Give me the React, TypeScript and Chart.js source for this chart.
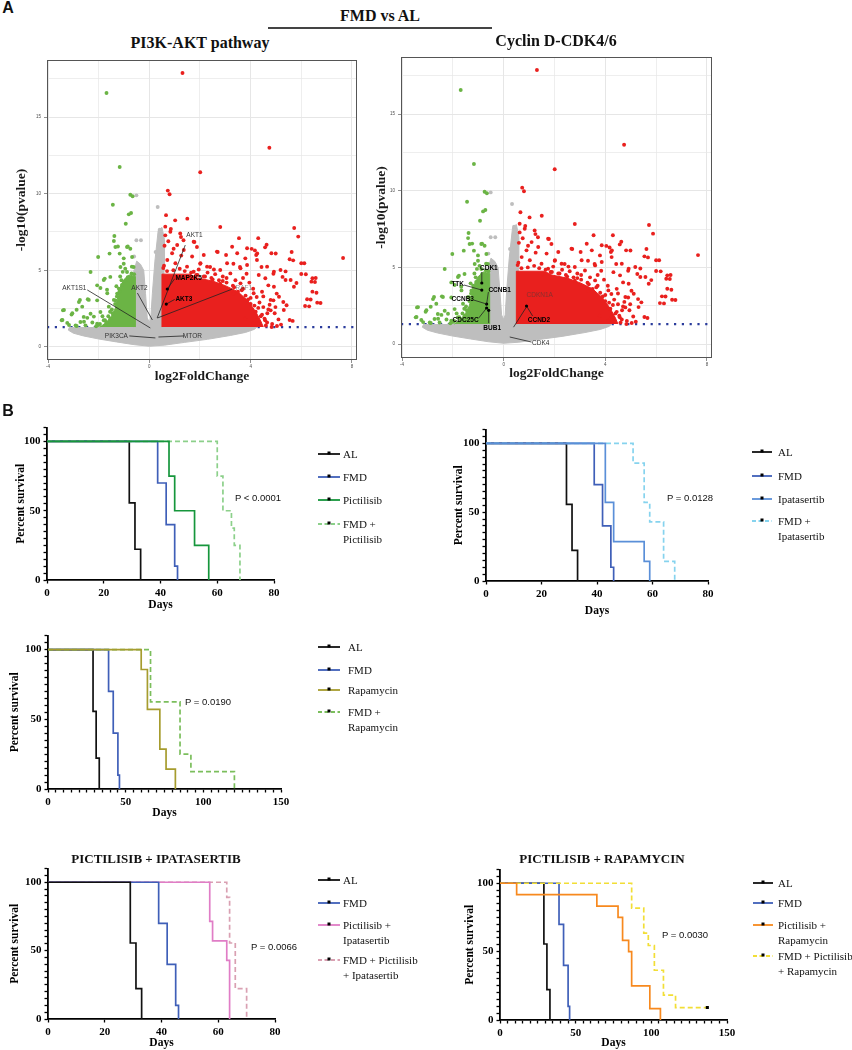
import React, { useEffect, useRef } from "react";
import { Chart, registerables } from "chart.js";
Chart.register(...registerables);

const SERIF = '"Liberation Serif", "Times New Roman", Times, serif';
const SANS = '"Liberation Sans", Arial, Helvetica, sans-serif';

// ---------------- Volcano data (log2FoldChange, -log10 p) ----------------
const upGenes: [number, number][] = [
  [1.31, 17.87], [4.74, 13.0], [2.01, 11.4], [0.73, 10.2], [0.8, 9.96], [0.66, 8.6], [1.02, 8.26], [1.5, 8.37],
  [2.8, 7.83], [5.72, 7.76], [5.88, 7.2], [3.54, 7.1], [4.3, 7.1], [4.63, 6.67], [4.57, 6.5], [7.65, 5.8],
  [5.62, 6.2], [5.68, 5.65], [4.99, 6.1], [2.7, 6.2], [3.03, 6.0], [4.04, 6.4], [4.17, 6.3], [4.26, 6.1],
  [6.12, 5.46], [6.18, 4.74], [6.57, 4.5], [6.54, 4.24], [6.6, 3.54], [6.37, 3.1], [6.76, 2.87], [6.31, 2.65],
  [5.81, 4.17], [5.38, 4.93], [5.26, 4.57], [4.9, 4.78], [5.42, 2.72], [5.66, 1.7], [4.83, 1.3], [5.2, 1.46],
  [1.25, 7.17], [1.35, 6.96], [1.78, 6.85], [1.88, 6.52], [0.85, 7.7], [0.63, 7.28], [0.96, 6.41], [1.26, 5.96],
  [2.01, 5.43], [2.4, 5.22], [3.32, 5.43], [3.58, 5.22], [3.84, 4.78], [4.43, 5.22], [4.7, 4.02], [5.03, 3.48],
  [4.79, 2.39], [4.57, 1.74], [4.11, 1.52], [3.78, 1.85], [3.32, 3.48], [2.8, 4.13], [4.9, 3.04], [5.29, 2.93],
  [4.24, 3.26], [0.63, 7.85], [0.83, 7.52], [1.22, 7.41], [1.75, 6.87], [3.86, 6.44], [4.22, 6.0], [4.82, 6.11],
  [5.54, 5.72], [6.0, 5.46], [6.0, 4.76], [6.44, 4.48], [6.4, 4.26], [6.44, 3.61], [6.23, 3.11], [6.63, 2.89],
  [6.15, 2.67], [5.54, 1.76], [5.04, 1.37], [2.67, 6.22], [3.27, 6.54], [3.47, 6.11], [3.79, 5.78], [4.25, 5.67],
  [4.65, 5.24], [4.92, 4.91], [5.18, 5.02], [5.38, 4.37], [5.58, 4.37], [5.71, 3.93], [4.92, 3.93], [5.12, 3.28],
  [4.79, 3.07], [5.31, 2.41], [4.66, 2.2], [4.26, 1.76], [4.85, 1.5], [4.12, 3.5], [3.6, 4.15], [3.2, 4.8],
  [2.8, 5.02], [2.28, 5.24], [2.02, 5.46], [1.69, 5.9], [1.36, 6.33], [1.1, 6.65], [0.9, 6.11], [0.71, 5.67],
  [1.03, 5.46], [1.49, 5.24], [1.75, 4.91], [3.86, 5.35], [4.32, 4.69], [4.58, 4.48], [3.6, 5.13], [3.07, 5.46],
  [2.2, 4.6], [2.5, 4.4], [2.9, 4.3], [3.3, 4.0], [3.5, 3.6], [3.9, 3.1], [4.0, 2.8], [4.2, 2.3], [4.4, 2.0],
  [4.5, 2.6], [4.35, 2.9], [3.7, 3.8], [3.05, 4.5], [2.6, 4.75], [1.9, 4.7], [1.55, 4.55], [4.45, 3.6],
  [4.6, 1.4], [4.3, 1.5], [3.95, 4.2], [0.6, 6.6], [0.75, 6.9], [0.58, 5.3], [1.2, 5.1], [2.15, 6.0],
  [1.65, 4.85], [1.85, 4.7], [2.15, 4.6], [2.45, 4.5], [2.75, 4.35], [3.05, 4.2], [3.35, 3.9], [3.65, 3.7],
  [3.8, 3.35], [4.0, 3.2], [4.15, 2.7], [4.3, 2.55], [4.45, 2.1], [4.55, 1.85], [4.65, 1.6], [4.7, 2.45],
  [4.1, 3.8], [3.4, 4.35], [2.9, 4.6], [2.3, 4.85], [1.95, 5.05], [1.4, 4.95], [0.95, 5.0], [0.7, 4.95],
  [0.55, 5.15], [2.55, 5.05], [3.7, 4.5], [4.5, 3.3], [4.75, 2.75], [4.95, 2.2], [5.1, 1.8], [4.98, 2.6],
];
const downGenes: [number, number][] = [
  [-1.69, 16.57], [-1.17, 11.74], [-0.75, 9.93], [-0.66, 9.83], [-1.44, 9.28], [-0.72, 8.74], [-0.81, 8.65],
  [-0.93, 8.04], [-1.38, 7.24], [-1.4, 6.91], [-1.34, 6.52], [-0.88, 6.52], [-0.75, 6.41], [-1.57, 6.09],
  [-2.02, 5.87], [-1.17, 6.09], [-0.68, 5.87], [-2.32, 4.89], [-1.76, 4.46], [-1.54, 4.57], [-2.06, 4.02],
  [-1.67, 3.74], [-2.78, 2.93], [-2.43, 3.11], [-2.06, 3.04], [-3.07, 2.11], [-3.41, 2.39], [-3.46, 1.74],
  [-3.24, 1.57], [-2.72, 1.63], [-2.32, 2.17], [-2.87, 2.43], [-2.59, 1.96], [-1.93, 2.28], [-1.8, 1.74],
  [-2.52, 1.41], [-2.91, 1.41], [-2.06, 1.52], [-1.54, 1.85], [-1.34, 3.04], [-1.27, 3.48], [-1.14, 5.22],
  [-1.01, 5.43], [-0.62, 5.22], [-0.88, 4.89], [-1.24, 6.55], [-0.85, 6.55], [-1.8, 4.37], [-1.93, 3.85],
  [-1.66, 3.5], [-2.74, 3.07], [-2.39, 3.07], [-3.37, 2.41], [-3.04, 2.2], [-2.65, 2.63], [-3.43, 1.76],
  [-3.17, 1.43], [-2.87, 1.37], [-2.58, 1.65], [-2.19, 1.98], [-2.0, 1.43], [-1.6, 2.63], [-1.4, 3.07],
  [-1.3, 3.96], [-1.01, 5.78], [-0.69, 5.24], [-1.15, 4.6], [-1.05, 4.9], [-0.95, 5.1], [-1.45, 2.2], [-1.7, 1.6],
  [-0.6, 4.75], [-0.7, 4.8], [-0.85, 4.55], [-0.95, 4.3], [-1.08, 4.05], [-1.18, 3.6], [-1.28, 3.3],
  [-1.35, 2.8], [-1.48, 2.45], [-1.62, 2.0], [-1.75, 1.75], [-1.95, 1.5], [-2.1, 1.35], [-1.1, 4.35],
  [-1.2, 3.8], [-1.55, 2.3], [-1.85, 2.0], [-2.25, 1.6], [-2.45, 1.9],
];
const nsOutliers: [number, number][] = [
  [-0.51, 9.89], [0.33, 9.13], [0.41, 7.65], [-0.51, 6.96], [-0.33, 6.96], [0.25, 6.2], [-0.6, 5.9],
];
const nsCloudOutline: [number, number][] = [
  [-3.15, 1.3], [-3.2, 1.1], [-3.0, 0.9], [-2.6, 0.72], [-2.0, 0.52], [-1.3, 0.33], [-0.6, 0.15], [0, 0.05],
  [0.6, 0.12], [1.4, 0.3], [2.3, 0.5], [3.2, 0.75], [3.8, 0.95], [4.15, 1.15], [4.25, 1.3], [0.55, 1.3],
  [0.58, 5.0], [0.6, 7.0], [0.5, 7.8], [0.35, 7.6], [0.22, 5.6], [0.12, 3.5], [0.06, 1.9], [0.0, 1.6],
  [-0.08, 1.9], [-0.15, 3.5], [-0.22, 5.0], [-0.35, 5.4], [-0.5, 5.6], [-0.6, 5.0], [-0.6, 1.3],
];
const upDenseOutline: [number, number][] = [
  [0.5, 1.3], [0.5, 4.75], [1.6, 4.75], [1.9, 4.5], [2.5, 4.3], [3.0, 4.0], [3.5, 3.6], [3.9, 3.0],
  [4.2, 2.3], [4.4, 1.7], [4.5, 1.3],
];
const downDenseOutline: [number, number][] = [
  [-0.55, 1.3], [-0.55, 4.6], [-0.8, 4.7], [-1.0, 4.4], [-1.15, 3.9], [-1.25, 3.2], [-1.35, 2.5],
  [-1.5, 2.0], [-1.7, 1.6], [-1.95, 1.3],
];
const pThreshold = 1.3;
const volcanoXTicks = [-4, 0, 4, 8];
const volcanoYTicks = [0, 5, 10, 15];

type GeneLabel = {
  gene: string; tx: number; ty: number; align: CanvasTextAlign;
  from: [number, number]; to: [number, number]; bold?: boolean; dot?: boolean; faint?: boolean;
};
const pi3kLabels: GeneLabel[] = [
  { gene: "AKT1", tx: 1.46, ty: 7.3, align: "left", from: [1.42, 6.65], to: [0.31, 1.89] },
  { gene: "MAP2K5", tx: 1.03, ty: 4.5, align: "left", from: [1.0, 4.45], to: [0.71, 3.78], bold: true, dot: true },
  { gene: "AKT3", tx: 1.03, ty: 3.13, align: "left", from: [1.0, 3.1], to: [0.67, 2.8], bold: true, dot: true },
  { gene: "RAF1", tx: 3.4, ty: 3.85, align: "left", from: [3.28, 3.78], to: [0.32, 1.89], faint: true },
  { gene: "AKT2", tx: -0.39, ty: 3.85, align: "center", from: [-0.47, 3.52], to: [0.12, 1.76] },
  { gene: "AKT1S1", tx: -2.96, ty: 3.85, align: "center", from: [-2.45, 3.72], to: [0.04, 1.24] },
  { gene: "PIK3CA", tx: -1.3, ty: 0.72, align: "center", from: [-0.79, 0.72], to: [0.24, 0.59] },
  { gene: "MTOR", tx: 1.7, ty: 0.72, align: "center", from: [1.38, 0.72], to: [0.36, 0.65] },
];
const cyclinLabels: GeneLabel[] = [
  { gene: "CDK1", tx: -0.93, ty: 4.94, align: "left", from: [-0.86, 4.7], to: [-0.86, 3.98], bold: true, dot: true },
  { gene: "TTK", tx: -1.56, ty: 3.91, align: "right", from: [-1.56, 3.85], to: [-0.86, 3.52], bold: true, dot: true },
  { gene: "CCNB1", tx: -0.6, ty: 3.52, align: "left", from: [-0.6, 3.39], to: [-0.67, 2.61], bold: true, dot: true },
  { gene: "CCNB3", tx: -2.05, ty: 2.94, align: "left", from: [-1.18, 2.87], to: [-0.67, 2.61], bold: true },
  { gene: "CDC25C", tx: -2.01, ty: 1.57, align: "left", from: [-0.98, 1.7], to: [-0.67, 2.35], bold: true, dot: true },
  { gene: "BUB1", tx: -0.8, ty: 1.02, align: "left", from: [-0.59, 1.37], to: [-0.59, 2.2], bold: true, dot: true },
  { gene: "CDKN1A", tx: 0.9, ty: 3.2, align: "left", from: [0.93, 2.5], to: [0.39, 1.1], faint: true },
  { gene: "CCND2", tx: 0.95, ty: 1.57, align: "left", from: [1.14, 1.83], to: [0.9, 2.48], bold: true, dot: true },
  { gene: "CDK4", tx: 1.12, ty: 0.08, align: "left", from: [1.1, 0.13], to: [0.24, 0.46] },
];

// ---------------- Survival data (days, percent survival) ----------------
const alDays = [0, 29, 31, 33];
const alSurv = [100, 55.6, 22.2, 0];
const fmdDays = [0, 39, 42, 45, 46];
const fmdSurv = [100, 70, 40, 10, 0];
const pictDays = [0, 43, 45, 52, 57];
const pictSurv = [100, 75, 50, 25, 0];
const fmdPictDays = [0, 60, 62, 65, 66, 68];
const fmdPictSurv = [100, 75, 50, 37.5, 25, 0];
const ipatDays = [0, 43, 46, 57, 59];
const ipatSurv = [100, 57.1, 28.6, 14.3, 0];
const fmdIpatDays = [0, 53, 57, 59, 64, 68];
const fmdIpatSurv = [100, 85.7, 57.1, 42.9, 14.3, 0];
const rapaDays = [0, 60, 64, 72, 76, 82];
const rapaSurv = [100, 85.7, 57.1, 28.6, 14.3, 0];
const fmdRapaDays = [0, 66, 85, 92, 120];
const fmdRapaSurv = [100, 62.5, 25, 12.5, 0];
const pictIpatDays = [0, 57, 58, 63, 64];
const pictIpatSurv = [100, 71.4, 57.1, 42.9, 0];
const fmdPictIpatDays = [0, 63, 64, 66, 70];
const fmdPictIpatSurv = [100, 88.9, 55.6, 22.2, 0];
const pictRapaDays = [0, 11, 64, 78, 81, 85, 87, 99, 106];
const pictRapaSurv = [100, 91.7, 83.3, 75, 58.3, 50, 25, 8.3, 0];
const fmdPictRapaDays = [0, 87, 95, 98, 102, 108, 116, 137];
const fmdPictRapaSurv = [100, 81.8, 63.6, 54.5, 36.4, 18.2, 9.1, 9.1];
const fmdPictRapaCensor: [number, number][] = [[137, 9.1]];

const C = {
  al: "#111111", fmd: "#3F5FB8", pict: "#16963C", fmdPict: "#8CD08A", ipat: "#5A8FD8", fmdIpat: "#86D3EE",
  rapa: "#A69C2E", fmdRapa: "#7BBE5C", pictIpat: "#E07DC6", fmdPictIpat: "#D9A0B2", pictRapa: "#F7891E",
  fmdPictRapa: "#F2DE36",
};
const GRAY = "#BEBEBE";
const RED = "#E9201E";
const GREEN = "#6BB445";

type Series = { name: string[]; t: number[]; s: number[]; color: string; dashed?: boolean; z: number };

const panelB1: Series[] = [
  { name: ["AL"], t: alDays, s: alSurv, color: C.al, z: 1 },
  { name: ["FMD"], t: fmdDays, s: fmdSurv, color: C.fmd, z: 2 },
  { name: ["Pictilisib"], t: pictDays, s: pictSurv, color: C.pict, z: 4 },
  { name: ["FMD +", "Pictilisib"], t: fmdPictDays, s: fmdPictSurv, color: C.fmdPict, dashed: true, z: 3 },
];
const panelB2: Series[] = [
  { name: ["AL"], t: alDays, s: alSurv, color: C.al, z: 1 },
  { name: ["FMD"], t: fmdDays, s: fmdSurv, color: C.fmd, z: 2 },
  { name: ["Ipatasertib"], t: ipatDays, s: ipatSurv, color: C.ipat, z: 4 },
  { name: ["FMD +", "Ipatasertib"], t: fmdIpatDays, s: fmdIpatSurv, color: C.fmdIpat, dashed: true, z: 3 },
];
const panelB3: Series[] = [
  { name: ["AL"], t: alDays, s: alSurv, color: C.al, z: 1 },
  { name: ["FMD"], t: fmdDays, s: fmdSurv, color: C.fmd, z: 2 },
  { name: ["Rapamycin"], t: rapaDays, s: rapaSurv, color: C.rapa, z: 4 },
  { name: ["FMD +", "Rapamycin"], t: fmdRapaDays, s: fmdRapaSurv, color: C.fmdRapa, dashed: true, z: 3 },
];
const panelB4: Series[] = [
  { name: ["AL"], t: alDays, s: alSurv, color: C.al, z: 4 },
  { name: ["FMD"], t: fmdDays, s: fmdSurv, color: C.fmd, z: 3 },
  { name: ["Pictilisib +", "Ipatasertib"], t: pictIpatDays, s: pictIpatSurv, color: C.pictIpat, z: 2 },
  { name: ["FMD + Pictilisib", "+ Ipatasertib"], t: fmdPictIpatDays, s: fmdPictIpatSurv, color: C.fmdPictIpat, dashed: true, z: 1 },
];
const panelB5: Series[] = [
  { name: ["AL"], t: alDays, s: alSurv, color: C.al, z: 1 },
  { name: ["FMD"], t: fmdDays, s: fmdSurv, color: C.fmd, z: 2 },
  { name: ["Pictilisib +", "Rapamycin"], t: pictRapaDays, s: pictRapaSurv, color: C.pictRapa, z: 4 },
  { name: ["FMD + Pictilisib", "+ Rapamycin"], t: fmdPictRapaDays, s: fmdPictRapaSurv, color: C.fmdPictRapa, dashed: true, z: 3 },
];

// ---------------- layout helpers ----------------
type Area = { left: number; top: number; right: number; bottom: number };
type Geo = { x: number; y: number; w: number; h: number; yW: number; xH: number; padTop: number; padRight: number };

function geometry(area: Area, yTitleCX: number, xTitleCY: number, lh: number, padTop: number, padRight: number): Geo {
  const x = Math.round(yTitleCX - lh / 2);
  const y = Math.round(area.top - padTop);
  const right = Math.round(area.right + padRight);
  const bottom = Math.round(xTitleCY + lh / 2);
  return { x, y, w: right - x, h: bottom - y, yW: area.left - x, xH: bottom - area.bottom, padTop: area.top - y, padRight: right - area.right };
}

const VT_LH = 13.5 * 1.2;
const ST_LH = 11.5 * 1.2;
const geoV1 = geometry({ left: 47, top: 60, right: 357, bottom: 360 }, 21, 377, VT_LH, 8, 6);
const geoV2 = geometry({ left: 401, top: 57, right: 712, bottom: 358 }, 381, 374, VT_LH, 8, 6);
const geoB1 = geometry({ left: 47, top: 426, right: 274, bottom: 580 }, 21, 605, ST_LH, 8, 14);
const geoB2 = geometry({ left: 486, top: 428, right: 708, bottom: 581 }, 459, 611, ST_LH, 8, 14);
const geoB3 = geometry({ left: 48, top: 634, right: 281, bottom: 789 }, 15, 813, ST_LH, 8, 14);
const geoB4 = geometry({ left: 48, top: 867, right: 275, bottom: 1019 }, 15, 1043, ST_LH, 8, 14);
const geoB5 = geometry({ left: 500, top: 868, right: 727, bottom: 1020 }, 470, 1043, ST_LH, 8, 14);

const framePlugin = (color: string) => ({
  id: "frame",
  afterDraw(chart: any) {
    const { ctx, chartArea: a } = chart;
    ctx.save();
    ctx.strokeStyle = color;
    ctx.lineWidth = 1;
    ctx.strokeRect(a.left + 0.5, a.top + 0.5, a.right - a.left - 1, a.bottom - a.top - 1);
    ctx.restore();
  },
});

const geneLabelPlugin = (items: GeneLabel[]) => ({
  id: "geneLabels",
  afterDatasetsDraw(chart: any) {
    const { ctx, scales } = chart;
    const X = (v: number) => scales.x.getPixelForValue(v);
    const Y = (v: number) => scales.y.getPixelForValue(v);
    ctx.save();
    for (const it of items) {
      ctx.strokeStyle = "#222";
      ctx.lineWidth = 0.8;
      ctx.beginPath();
      ctx.moveTo(X(it.from[0]), Y(it.from[1]));
      ctx.lineTo(X(it.to[0]), Y(it.to[1]));
      ctx.stroke();
      if (it.dot) {
        ctx.fillStyle = "#000";
        ctx.beginPath();
        ctx.arc(X(it.to[0]), Y(it.to[1]), 1.6, 0, Math.PI * 2);
        ctx.fill();
      }
      ctx.font = `${it.bold ? "bold " : ""}6.5px ${SANS}`;
      ctx.fillStyle = it.faint ? "rgba(60,60,60,0.55)" : it.bold ? "#000" : "#333";
      ctx.textAlign = it.align;
      ctx.textBaseline = "middle";
      ctx.fillText(it.gene, X(it.tx), Y(it.ty));
    }
    ctx.restore();
  },
});

const pts = (arr: [number, number][]) => arr.map(([x, y]) => ({ x, y }));

function volcanoConfig(g: Geo, yMin: number, labels: GeneLabel[]): any {
  const xMin = -4.04, xMax = 8.2, yMax = 18.72;
  const poly = (arr: [number, number][], color: string, order: number) => ({
    type: "line", data: pts(arr), borderColor: color, borderWidth: 1, backgroundColor: color,
    fill: "shape", pointRadius: 0, tension: 0, order,
  });
  const dots = (arr: [number, number][], color: string, order: number) => ({
    type: "scatter", data: pts(arr), backgroundColor: color, borderWidth: 0, pointRadius: 1.95, order,
  });
  return {
    type: "scatter",
    data: {
      datasets: [
        { type: "line", data: [{ x: xMin, y: pThreshold }, { x: xMax, y: pThreshold }], borderColor: "#2B3C9C",
          borderWidth: 2.2, borderDash: [2.2, 5.6], pointRadius: 0, fill: false, order: 20 },
        poly(nsCloudOutline, GRAY, 19),
        dots(nsOutliers, GRAY, 18),
        poly(downDenseOutline, GREEN, 17),
        poly(upDenseOutline, RED, 16),
        dots(downGenes, GREEN, 15),
        dots(upGenes, RED, 14),
      ],
    },
    plugins: [geneLabelPlugin(labels), framePlugin("#555")],
    options: {
      responsive: false, maintainAspectRatio: false, animation: false, devicePixelRatio: 1, events: [],
      layout: { padding: { top: g.padTop, right: g.padRight, left: 0, bottom: 0 } },
      plugins: { legend: { display: false }, tooltip: { enabled: false } },
      scales: {
        x: {
          type: "linear", min: xMin, max: xMax,
          afterFit: (s: any) => { s.height = g.xH; },
          ticks: { stepSize: 2, includeBounds: false, autoSkip: false, maxRotation: 0, padding: 1,
            font: { family: SANS, size: 4.5 }, color: "#4D4D4D",
            callback: (v: any) => (volcanoXTicks.includes(Number(v)) ? String(v) : "") },
          grid: { color: "#E6E6E6", lineWidth: (c: any) => (c.tick && volcanoXTicks.includes(c.tick.value) ? 1 : 0.7),
            drawTicks: true, tickLength: 3, tickWidth: 0.6,
            tickColor: (c: any) => (c.tick && volcanoXTicks.includes(c.tick.value) ? "#444" : "rgba(0,0,0,0)") },
          border: { display: false },
          title: { display: true, text: "log2FoldChange", color: "#1a1a1a", padding: 0,
            font: { family: SERIF, size: 13.5, weight: "bold", lineHeight: 1.2 } },
        },
        y: {
          type: "linear", min: yMin, max: yMax,
          afterFit: (s: any) => { s.width = g.yW; },
          ticks: { stepSize: 2.5, includeBounds: false, autoSkip: false, padding: 3,
            font: { family: SANS, size: 4.5 }, color: "#4D4D4D",
            callback: (v: any) => (volcanoYTicks.includes(Number(v)) ? String(v) : "") },
          grid: { color: "#E6E6E6", lineWidth: (c: any) => (c.tick && volcanoYTicks.includes(c.tick.value) ? 1 : 0.7),
            drawTicks: true, tickLength: 3, tickWidth: 0.6,
            tickColor: (c: any) => (c.tick && volcanoYTicks.includes(c.tick.value) ? "#444" : "rgba(0,0,0,0)") },
          border: { display: false },
          title: { display: true, text: "-log10(pvalue)", color: "#1a1a1a", padding: 0,
            font: { family: SERIF, size: 13.5, weight: "bold", lineHeight: 1.2 } },
        },
      },
    },
  };
}

function survivalConfig(g: Geo, series: Series[], xMax: number, xMajor: number, xMinor: number, censor: [number, number][] = []): any {
  const datasets: any[] = series.map((s) => ({
    type: "line",
    data: s.t.map((t, k) => ({ x: t, y: s.s[k] })),
    borderColor: s.color, borderWidth: 1.7, borderDash: s.dashed ? [5, 3] : [],
    stepped: "before", pointRadius: 0, fill: false, tension: 0, order: 10 - s.z,
  }));
  if (censor.length) {
    datasets.push({ type: "scatter", data: pts(censor), pointStyle: "rect", pointRadius: 2.2,
      backgroundColor: "#000", borderWidth: 0, order: 0 });
  }
  const tickFont = { family: SERIF, size: 11, weight: "bold" };
  const titleFont = { family: SERIF, size: 11.5, weight: "bold", lineHeight: 1.2 };
  return {
    type: "line",
    data: { datasets },
    options: {
      responsive: false, maintainAspectRatio: false, animation: false, devicePixelRatio: 1, events: [],
      layout: { padding: { top: g.padTop, right: g.padRight, left: 0, bottom: 0 } },
      plugins: { legend: { display: false }, tooltip: { enabled: false } },
      scales: {
        x: {
          type: "linear", min: 0, max: xMax,
          afterFit: (s: any) => { s.height = g.xH; },
          ticks: { stepSize: xMinor, autoSkip: false, maxRotation: 0, padding: 3, font: tickFont, color: "#000",
            callback: (v: any) => (Number(v) % xMajor === 0 ? String(v) : "") },
          grid: { drawOnChartArea: false, drawTicks: true, tickLength: 3.5, tickColor: "#000", tickWidth: 1.3 },
          border: { color: "#000", width: 1.8 },
          title: { display: true, text: "Days", color: "#000", padding: 0, font: titleFont },
        },
        y: {
          type: "linear", min: 0, max: 110,
          afterFit: (s: any) => { s.width = g.yW; },
          ticks: { stepSize: 5, autoSkip: false, padding: 3, font: tickFont, color: "#000",
            callback: (v: any) => (Number(v) % 50 === 0 ? String(v) : "") },
          grid: { drawOnChartArea: false, drawTicks: true, tickLength: 3.5, tickColor: "#000", tickWidth: 1.3 },
          border: { color: "#000", width: 1.8 },
          title: { display: true, text: "Percent survival", color: "#000", padding: 0, font: titleFont },
        },
      },
    },
  };
}

function ChartBox({ g, make }: { g: Geo; make: () => any }) {
  const ref = useRef<HTMLCanvasElement>(null);
  useEffect(() => {
    const chart = new Chart(ref.current as HTMLCanvasElement, make());
    return () => chart.destroy();
  }, []);
  return (
    <canvas ref={ref} width={g.w} height={g.h}
      style={{ position: "absolute", left: g.x, top: g.y, width: g.w, height: g.h }} />
  );
}

function Txt({ x, y, children, style, left }: { x: number; y: number; children: any; style?: any; left?: boolean }) {
  return (
    <div style={{ position: "absolute", left: x, top: y, transform: left ? "translate(0,-50%)" : "translate(-50%,-50%)",
      whiteSpace: "nowrap", lineHeight: 1, ...style }}>{children}</div>
  );
}

type LegendSpec = { x1: number; x2: number; tx: number; rows: number[]; series: Series[] };
const legends: LegendSpec[] = [
  { x1: 318, x2: 340, tx: 343, rows: [454, 477, 500, 524], series: panelB1 },
  { x1: 752, x2: 772, tx: 778, rows: [452, 476, 499, 521], series: panelB2 },
  { x1: 318, x2: 340, tx: 348, rows: [647, 670, 690, 712], series: panelB3 },
  { x1: 318, x2: 340, tx: 343, rows: [880, 903, 925, 960], series: panelB4 },
  { x1: 753, x2: 773, tx: 778, rows: [883, 903, 925, 956], series: panelB5 },
];

const pValues = [
  { text: "P < 0.0001", x: 235, y: 498 },
  { text: "P = 0.0128", x: 667, y: 498 },
  { text: "P = 0.0190", x: 185, y: 702 },
  { text: "P = 0.0066", x: 251, y: 947 },
  { text: "P = 0.0030", x: 662, y: 935 },
];

export default function App() {
  const legendText: any[] = [];
  const legendMarks: any[] = [];
  legends.forEach((L, li) => {
    L.series.forEach((s, i) => {
      const y = L.rows[i];
      legendMarks.push(
        <g key={`m${li}-${i}`}>
          <line x1={L.x1} x2={L.x2} y1={y} y2={y} stroke={s.color} strokeWidth={1.8}
            strokeDasharray={s.dashed ? "4 2.5" : undefined} />
          <rect x={(L.x1 + L.x2) / 2 - 1.5} y={y - 2.5} width={3} height={3} fill="#000" />
        </g>
      );
      s.name.forEach((line, k) => {
        legendText.push(
          <Txt key={`t${li}-${i}-${k}`} x={L.tx} y={y + k * 15} left
            style={{ fontFamily: SERIF, fontSize: 11, color: "#111" }}>{line}</Txt>
        );
      });
    });
  });

  const titleStyle = { fontFamily: SERIF, fontWeight: "bold", color: "#111" };
  return (
    <div style={{ position: "absolute", left: 0, top: 0, width: 852, height: 1050, background: "#fff", overflow: "hidden" }}>
      <ChartBox g={geoV1} make={() => volcanoConfig(geoV1, -0.85, pi3kLabels)} />
      <ChartBox g={geoV2} make={() => volcanoConfig(geoV2, -0.91, cyclinLabels)} />
      <ChartBox g={geoB1} make={() => survivalConfig(geoB1, panelB1, 80, 20, 20)} />
      <ChartBox g={geoB2} make={() => survivalConfig(geoB2, panelB2, 80, 20, 20)} />
      <ChartBox g={geoB3} make={() => survivalConfig(geoB3, panelB3, 150, 50, 5)} />
      <ChartBox g={geoB4} make={() => survivalConfig(geoB4, panelB4, 80, 20, 20)} />
      <ChartBox g={geoB5} make={() => survivalConfig(geoB5, panelB5, 150, 50, 5, fmdPictRapaCensor)} />

      <Txt x={8} y={8} style={{ fontFamily: SANS, fontWeight: "bold", fontSize: 16, color: "#111" }}>A</Txt>
      <Txt x={8} y={411} style={{ fontFamily: SANS, fontWeight: "bold", fontSize: 16, color: "#111" }}>B</Txt>
      <Txt x={380} y={16} style={{ ...titleStyle, fontSize: 16 }}>FMD vs AL</Txt>
      <div style={{ position: "absolute", left: 268, top: 27, width: 224, height: 1.5, background: "#444" }} />
      <Txt x={200} y={43} style={{ ...titleStyle, fontSize: 16 }}>PI3K-AKT pathway</Txt>
      <Txt x={556} y={41} style={{ ...titleStyle, fontSize: 16 }}>Cyclin D-CDK4/6</Txt>
      <Txt x={156} y={858} style={{ ...titleStyle, fontSize: 13 }}>PICTILISIB + IPATASERTIB</Txt>
      <Txt x={602} y={858} style={{ ...titleStyle, fontSize: 13 }}>PICTILISIB + RAPAMYCIN</Txt>

      {pValues.map((p, i) => (
        <Txt key={`p${i}`} x={p.x} y={p.y} left style={{ fontFamily: SANS, fontSize: 9.5, color: "#111" }}>{p.text}</Txt>
      ))}

      <svg width={852} height={1050} style={{ position: "absolute", left: 0, top: 0, pointerEvents: "none" }}>
        {legendMarks}
      </svg>
      {legendText}
    </div>
  );
}
